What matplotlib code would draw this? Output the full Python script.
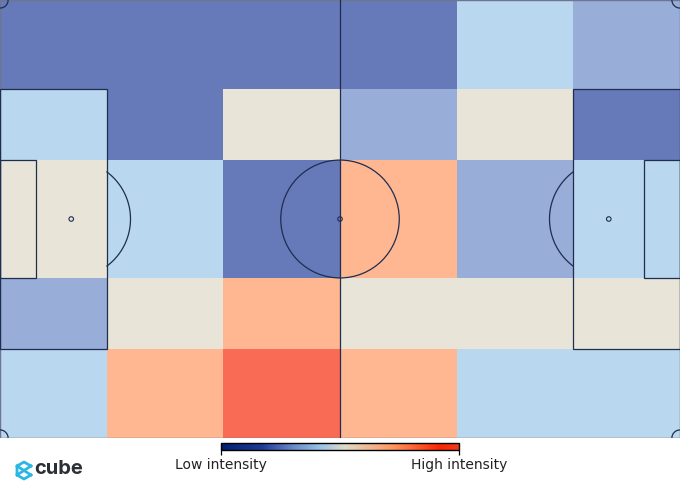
import matplotlib.pyplot as plt
import numpy as np
from matplotlib.colors import LinearSegmentedColormap
from matplotlib.patches import Arc, Circle, Rectangle

# Bin edges of the positional zones, metres on a 105 x 68 pitch
x_edges = [0, 16.5, 34.5, 52.5, 70.5, 88.5, 105]
y_edges = [0, 13.84, 24.84, 43.16, 54.16, 68]

# Intensity per zone, top row of the picture first
row_top = [0.17, 0.17, 0.17, 0.17, 0.42, 0.30]
row_upper = [0.42, 0.17, 0.52, 0.30, 0.52, 0.17]
row_middle = [0.52, 0.42, 0.17, 0.72, 0.30, 0.42]
row_lower = [0.30, 0.52, 0.72, 0.52, 0.52, 0.52]
row_bottom = [0.42, 0.72, 0.92, 0.72, 0.42, 0.42]
intensity = np.array([row_top, row_upper, row_middle, row_lower, row_bottom])

low_label = "Low intensity"
high_label = "High intensity"
logo_text = "cube"

line_color = "#1f2d50"
cmap = LinearSegmentedColormap.from_list("intensity", [
    (0.0, "#00206e"), (0.17, "#1e3a97"), (0.30, "#6888c6"), (0.42, "#98c4e6"),
    (0.52, "#dedac7"), (0.72, "#ff975f"), (0.92, "#f92503"), (1.0, "#ee3a1e"),
])

fig = plt.figure(figsize=(6.8, 4.9), dpi=100, facecolor="white")
W, H = 680, 490

# Pitch axes fill the width, from the top down to y=438 px
ax = fig.add_axes([0, (H - 438) / H, 1, 438 / H])
ax.pcolormesh(x_edges, y_edges, intensity, cmap=cmap, vmin=0, vmax=1, alpha=0.68,
              edgecolors="none", linewidth=0)
ax.set_xlim(0, 105)
ax.set_ylim(68, 0)
ax.axis("off")

lw = 0.9
style = dict(fill=False, edgecolor=line_color, linewidth=lw, zorder=3)
spot_style = dict(facecolor="none", edgecolor=line_color, linewidth=0.8, zorder=3)

# Outer line, halfway line and centre circle
ax.add_patch(Rectangle((0, 0), 105, 68, fill=False, edgecolor="#6d7590", linewidth=1.0, zorder=3))
ax.plot([52.5, 52.5], [0, 68], color=line_color, lw=lw, zorder=3)
ax.add_patch(Circle((52.5, 34), 9.15, **style))
ax.add_patch(Circle((52.5, 34), 0.35, **spot_style))

# Penalty and six yard boxes, spots and D arcs on both sides
ax.add_patch(Rectangle((0, 13.84), 16.5, 40.32, **style))
ax.add_patch(Rectangle((88.5, 13.84), 16.5, 40.32, **style))
ax.add_patch(Rectangle((0, 24.84), 5.5, 18.32, **style))
ax.add_patch(Rectangle((99.5, 24.84), 5.5, 18.32, **style))
ax.add_patch(Circle((11, 34), 0.35, **spot_style))
ax.add_patch(Circle((94, 34), 0.35, **spot_style))

angle = np.radians(np.linspace(-53, 53, 60))
ax.plot(11 + 9.15 * np.cos(angle), 34 + 9.15 * np.sin(angle), color=line_color, lw=lw, zorder=3)
ax.plot(94 - 9.15 * np.cos(angle), 34 + 9.15 * np.sin(angle), color=line_color, lw=lw, zorder=3)

# Corner arcs
for cx, cy in [(0, 0), (105, 0), (0, 68), (105, 68)]:
    ax.add_patch(Arc((cx, cy), 2.5, 2.5, **style))

# Colour bar with the two end labels as tick labels
cax = fig.add_axes([221 / W, (H - 450) / H, 238 / W, 7 / H])
sm = plt.cm.ScalarMappable(cmap=cmap, norm=plt.Normalize(0, 1))
cbar = fig.colorbar(sm, cax=cax, orientation="horizontal")
cbar.set_ticks([0, 1], labels=[low_label, high_label])
cbar.ax.tick_params(labelsize=10, length=3.5, width=0.9, pad=2, labelcolor="#222222")
cbar.outline.set_linewidth(1.0)

# Logo
lax = fig.add_axes([0, 0, 1, 1], facecolor="none")
lax.set_xlim(0, W)
lax.set_ylim(H, 0)
lax.axis("off")
logo_blue = "#2cb6e3"
lax.plot([31, 24, 17, 17, 24, 31], [466, 462, 466, 475, 479, 475], color=logo_blue, lw=2.0,
         solid_joinstyle="round")
lax.plot([17, 31], [466, 475], color=logo_blue, lw=2.0)
lax.plot([17, 31], [475, 466], color=logo_blue, lw=2.0)
lax.text(34.5, 469, logo_text, fontsize=14.5, fontweight="bold", family="Inter",
         color="#2b2f36", va="center", ha="left")

plt.savefig("out.png", dpi=100)
